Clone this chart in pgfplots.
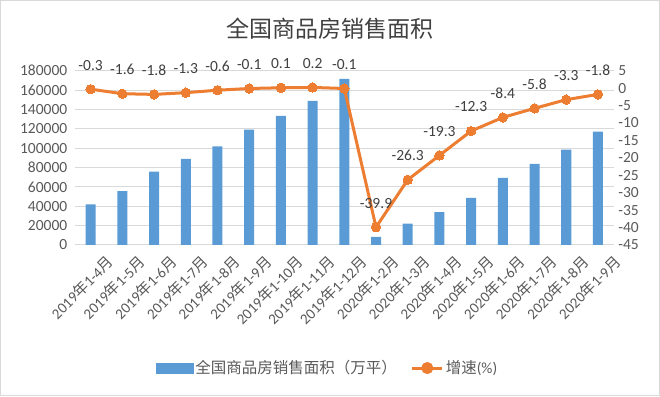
\documentclass[border=0pt]{standalone}
\usepackage{pgfplots}
\pgfplotsset{compat=1.18}
\usepackage{pgfplotstable}
\usepackage{fontspec}
\setmainfont{Carlito}
\newfontfamily\cjk{Noto Sans CJK SC}
\definecolor{barblue}{HTML}{5B9BD5}
\definecolor{lineor}{HTML}{ED7D31}
\definecolor{txt}{HTML}{595959}
\definecolor{gridc}{HTML}{D9D9D9}
\definecolor{ttl}{HTML}{404040}

\pgfplotstableread{
x y
0 41907
1 55518
2 75786
3 88976
4 101849
5 119179
6 133251
7 148905
8 171558
9 8475
10 21978
11 33975
12 48703
13 69404
14 83869
15 98486
16 117073
}\areadata

\pgfplotstableread{
x y lab
0 -0.3 -0.3
1 -1.6 -1.6
2 -1.8 -1.8
3 -1.3 -1.3
4 -0.6 -0.6
5 -0.1 -0.1
6 0.1 0.1
7 0.2 0.2
8 -0.1 -0.1
9 -39.9 -39.9
10 -26.3 -26.3
11 -19.3 -19.3
12 -12.3 -12.3
13 -8.4 -8.4
14 -5.8 -5.8
15 -3.3 -3.3
16 -1.8 -1.8
}\growthdata

\newcommand{\lbl}[2]{#1{\cjk 年}#2{\cjk 月}}

\begin{document}
\begin{tikzpicture}
\useasboundingbox (0pt,0pt) rectangle (660pt,396pt);
\draw[color=gridc, line width=1.2pt] (0.6pt,0.6pt) rectangle (659.4pt,395.4pt);
\node[text=ttl] at (330pt,367pt) {\fontsize{23}{28}\selectfont\cjk 全国商品房销售面积};

\pgfplotsset{
  common/.style={
    at={(74.8pt,151pt)}, anchor=south west,
    scale only axis, width=539pt, height=174.3pt,
    xmin=-0.5, xmax=16.5,
    axis line style={draw=none},
    tick style={draw=none},
    tick label style={font=\fontsize{15.5}{18}\selectfont, text=txt},
    /pgf/number format/assume math mode=true,
    clip=false,
  }
}

\begin{axis}[common,
  ymin=0, ymax=180000,
  ytick={0,20000,...,180000},
  scaled y ticks=false,
  yticklabel style={/pgf/number format/fixed, /pgf/number format/1000 sep={}, xshift=-4pt},
  ymajorgrids, grid style={color=gridc, line width=1pt},
  xtick={0,...,16},
  xticklabels={\lbl{2019}{1-4},\lbl{2019}{1-5},\lbl{2019}{1-6},\lbl{2019}{1-7},\lbl{2019}{1-8},\lbl{2019}{1-9},\lbl{2019}{1-10},\lbl{2019}{1-11},\lbl{2019}{1-12},\lbl{2020}{1-2},\lbl{2020}{1-3},\lbl{2020}{1-4},\lbl{2020}{1-5},\lbl{2020}{1-6},\lbl{2020}{1-7},\lbl{2020}{1-8},\lbl{2020}{1-9}},
  xticklabel style={anchor=east, rotate=45, xshift=4pt, yshift=-24pt, inner sep=0pt, font=\fontsize{15}{18}\selectfont},
]
\addplot[ybar, bar width=10pt, fill=barblue, draw=none] table[x=x,y=y] {\areadata};
\end{axis}

\begin{axis}[common,
  axis y line*=right,
  axis x line=none,
  ymin=-45, ymax=5,
  ytick={-45,-40,...,5},
  yticklabel style={xshift=1pt},
  legend style={at={(0.469,-0.706)}, anchor=center, draw=none, fill=none,
    legend columns=2, font=\fontsize{15.5}{18}\selectfont, text=txt,
    /tikz/every even column/.append style={column sep=12pt}},
]
\addlegendimage{legend image code/.code={\fill[barblue] (0pt,-5pt) rectangle (37pt,5pt);}}
\addlegendentry{{\cjk 全国商品房销售面积（万平）}}
\addplot[color=lineor, line width=3pt, mark=*, mark size=4.7pt,
  mark options={fill=lineor, draw=lineor, line width=0pt},
  point meta=explicit symbolic,
  nodes near coords,
  nodes near coords style={anchor=center, yshift=24pt, text=ttl, font=\fontsize{15.5}{18}\selectfont},
  legend image code/.code={\draw[lineor, line width=3pt] (0pt,0pt) -- (30pt,0pt); \fill[lineor] (15pt,0pt) circle (4.5pt);}
] table[x=x,y=y,meta=lab] {\growthdata};
\addlegendentry{{\cjk 增速}(\%)}
\end{axis}
\end{tikzpicture}
\end{document}
